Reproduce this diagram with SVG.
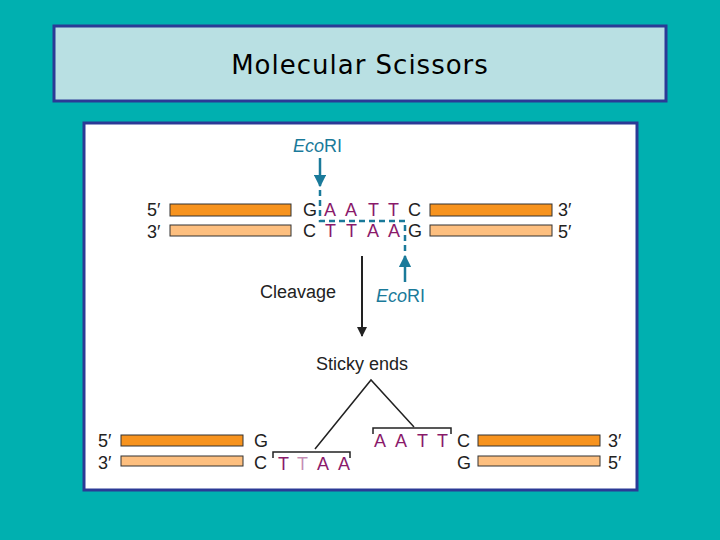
<svg xmlns="http://www.w3.org/2000/svg" width="720" height="540" viewBox="0 0 720 540">
<defs>
<style>
.t{font-family:"Liberation Sans",Arial,sans-serif;font-size:18px;fill:#222}
.m{font-family:"Liberation Sans",Arial,sans-serif;font-size:18px;fill:#8a1a6a}
.e{font-family:"Liberation Sans",Arial,sans-serif;font-size:18px;fill:#1a7a9a}
.d{fill:#f7931e;stroke:#333;stroke-width:1}
.l{fill:#fdbf7f;stroke:#333;stroke-width:1}
.br{fill:none;stroke:#222;stroke-width:1.5}
</style>
<marker id="ab" viewBox="0 0 10 10" refX="9" refY="5" markerWidth="5" markerHeight="5" orient="auto"><path d="M0,0L10,5L0,10z" fill="#1a7a9a"/></marker>
<marker id="ak" viewBox="0 0 10 10" refX="9" refY="5" markerWidth="5" markerHeight="5" orient="auto"><path d="M0,0L10,5L0,10z" fill="#222"/></marker>
</defs>
<rect width="720" height="540" fill="#00b0b0"/>
<g id="title"><rect x="54" y="26" width="612" height="75" fill="#b9e0e3" stroke="#2b3a96" stroke-width="3"/>
<text x="360" y="74" text-anchor="middle" style="font-family:'DejaVu Sans',sans-serif;font-size:26px;fill:#000;letter-spacing:1px">Molecular Scissors</text></g>
<rect x="84" y="123" width="553" height="367" fill="#fff" stroke="#2b3a96" stroke-width="3"/>
<g id="top-dna">
<text class="t" x="147" y="216">5′</text><text class="t" x="147" y="238">3′</text>
<rect class="d" x="170" y="204" width="121" height="12"/><rect class="l" x="170" y="225" width="121" height="11"/>
<rect class="d" x="430" y="204" width="122" height="12"/><rect class="l" x="430" y="225" width="122" height="11"/>
<text class="t" x="558" y="216">3′</text><text class="t" x="558" y="238">5′</text>
<text class="t" x="303" y="216">G</text><text class="m" x="324" y="216">A</text><text class="m" x="345" y="216">A</text><text class="m" x="368" y="216">T</text><text class="m" x="388" y="216">T</text><text class="t" x="408" y="216">C</text>
<text class="t" x="303" y="237">C</text><text class="m" x="325" y="237">T</text><text class="m" x="346" y="237">T</text><text class="m" x="367" y="237">A</text><text class="m" x="388" y="237">A</text><text class="t" x="408" y="237">G</text>
</g>
<g id="enzymes">
<text class="e" x="293" y="152"><tspan font-style="italic">Eco</tspan>RI</text>
<text class="e" x="376" y="302"><tspan font-style="italic">Eco</tspan>RI</text>
</g>
<g id="connectors">
<line x1="320" y1="158" x2="320" y2="186" stroke="#1a7a9a" stroke-width="2.5" marker-end="url(#ab)"/>
<line x1="405" y1="282" x2="405" y2="256" stroke="#1a7a9a" stroke-width="2.5" marker-end="url(#ab)"/>
<path d="M320,190V221H405V254" fill="none" stroke="#1a7a9a" stroke-width="2.5" stroke-dasharray="6,4"/>
<line x1="362" y1="256" x2="362" y2="336" stroke="#222" stroke-width="2" marker-end="url(#ak)"/>
<path d="M315,449L371,380L414,427" fill="none" stroke="#222" stroke-width="1.5"/>
</g>
<g id="labels">
<text class="t" x="260" y="298">Cleavage</text>
<text class="t" x="316" y="370">Sticky ends</text>
</g>
<g id="bottom-dna">
<text class="t" x="98" y="447">5′</text><text class="t" x="98" y="469">3′</text>
<rect class="d" x="121" y="435" width="122" height="11"/><rect class="l" x="121" y="456" width="122" height="10"/>
<text class="t" x="254" y="447">G</text><text class="t" x="254" y="469">C</text>
<path class="br" d="M273,458V452H350V458"/>
<text class="m" x="278" y="470">T</text><text class="m" x="297" y="470" fill-opacity="0.5">T</text><text class="m" x="317" y="470">A</text><text class="m" x="338" y="470">A</text>
<path class="br" d="M373,434V428H451V434"/>
<text class="m" x="374" y="447">A</text><text class="m" x="395" y="447">A</text><text class="m" x="417" y="447">T</text><text class="m" x="437" y="447">T</text>
<text class="t" x="457" y="447">C</text><text class="t" x="457" y="469">G</text>
<rect class="d" x="478" y="435" width="122" height="11"/><rect class="l" x="478" y="456" width="122" height="10"/>
<text class="t" x="608" y="447">3′</text><text class="t" x="608" y="469">5′</text>
</g>
</svg>
